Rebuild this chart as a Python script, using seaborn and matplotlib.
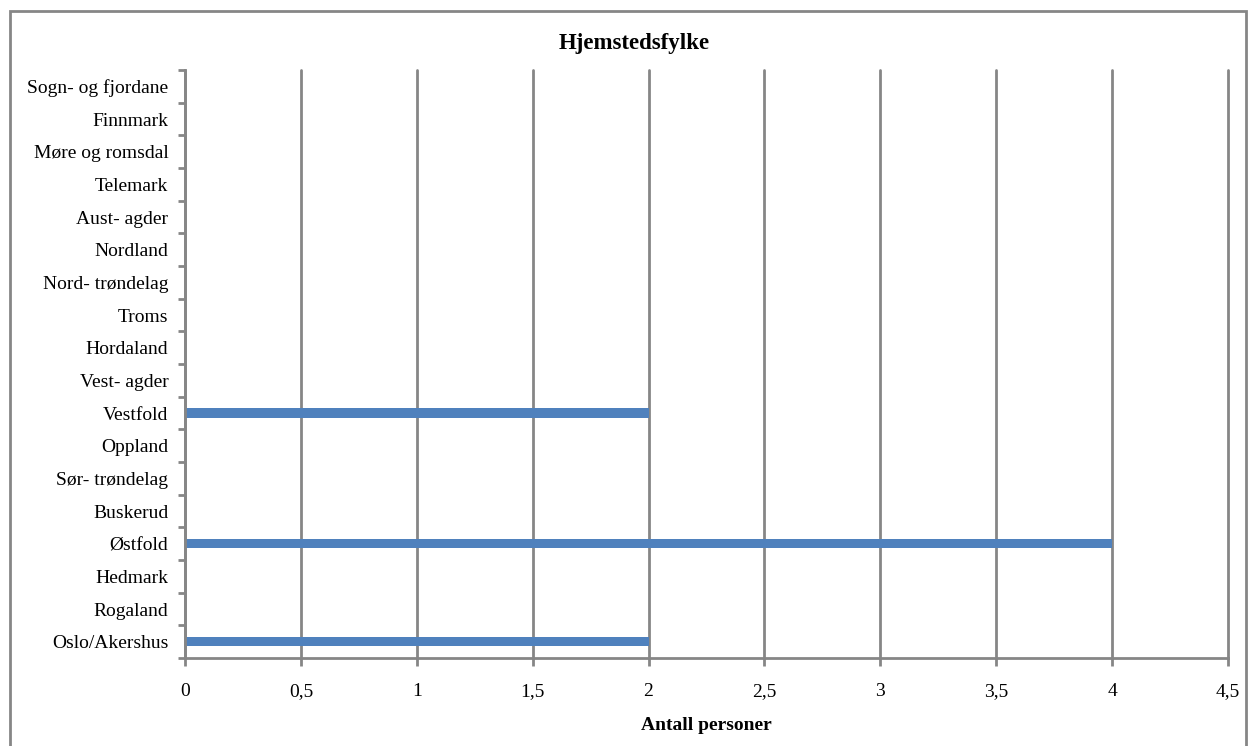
import matplotlib
matplotlib.use('Agg')
import matplotlib.pyplot as plt
import pandas as pd
import seaborn as sns
from matplotlib.patches import Rectangle
from matplotlib.ticker import MultipleLocator, FuncFormatter

# Data (top to bottom as shown)
fylker = [
    'Sogn- og fjordane', 'Finnmark', 'Møre og romsdal', 'Telemark',
    'Aust- agder', 'Nordland', 'Nord- trøndelag', 'Troms', 'Hordaland',
    'Vest- agder', 'Vestfold', 'Oppland', 'Sør- trøndelag', 'Buskerud',
    'Østfold', 'Hedmark', 'Rogaland', 'Oslo/Akershus'
]
antall = [0, 0, 0, 0, 0, 0, 0, 0, 0, 0, 2, 0, 0, 0, 4, 0, 0, 2]

df = pd.DataFrame({'fylke': fylker, 'antall': antall})

sns.set_style('white')
plt.rcParams['font.family'] = ['Liberation Serif', 'DejaVu Serif']
plt.rcParams['text.color'] = 'black'
plt.rcParams['xtick.labelcolor'] = 'black'
plt.rcParams['ytick.labelcolor'] = 'black'
plt.rcParams['axes.labelcolor'] = 'black'

fig = plt.figure(figsize=(12.48, 7.46), dpi=100)
ax = fig.add_axes([185 / 1248, 88 / 746, 1043 / 1248, 588 / 746])

grey = '#868686'

sns.barplot(data=df, x='antall', y='fylke', orient='h', color='#4F81BD',
            saturation=1, width=0.28, linewidth=0, ax=ax)

ax.set_xlim(0, 4.5)
ax.set_ylim(len(fylker) - 0.5, -0.5)
ax.xaxis.set_major_locator(MultipleLocator(0.5))
ax.xaxis.set_major_formatter(FuncFormatter(
    lambda v, p: ('%g' % v).replace('.', ',')))
ax.grid(axis='x', color=grey, linewidth=2)
ax.set_axisbelow(True)
for gl in ax.get_xgridlines():
    gl.set_clip_on(False)

for s in ['top', 'right']:
    ax.spines[s].set_visible(False)
for s in ['left', 'bottom']:
    ax.spines[s].set_color(grey)
    ax.spines[s].set_linewidth(2)

# tick marks between categories on the y axis
ax.set_yticks([i + 0.5 for i in range(-1, len(fylker))], minor=True)
ax.tick_params(axis='y', which='major', length=0, pad=12, labelsize=14,
               labelcolor='black')
ax.tick_params(axis='y', which='minor', length=5, width=2, color=grey,
               direction='out', left=True)
ax.tick_params(axis='x', which='major', length=6, width=2, color=grey,
               direction='out', bottom=True, pad=12, labelsize=14,
               labelcolor='black')

ax.set_xlabel('Antall personer', fontsize=14, fontweight='bold', labelpad=12,
              color='black')
ax.set_ylabel('')
fig.text(634 / 1248, 1 - 43 / 746, 'Hjemstedsfylke', color='black',
         ha='center', va='center', fontsize=16.5, fontweight='bold')

# chart border
fig.patches.append(Rectangle((10 / 1248, -0.1), 1236 / 1248, 1.1 - 11 / 746,
                             transform=fig.transFigure, fill=False,
                             edgecolor=grey, linewidth=2))

fig.savefig('out.png', dpi=100)
